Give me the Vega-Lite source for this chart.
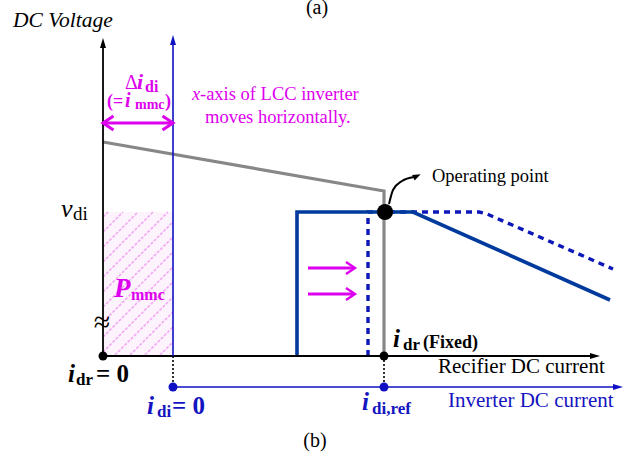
{
  "$schema": "https://vega.github.io/schema/vega-lite/v6.json",
  "width": 627,
  "height": 452,
  "padding": 0,
  "autosize": {"type": "none"},
  "background": "white",
  "config": {"view": {"stroke": null}, "font": "Liberation Serif", "text": {"font": "Liberation Serif", "align": "left", "baseline": "alphabetic"}},
  "encoding": {
    "x": {"field": "x", "type": "quantitative", "scale": {"domain": [-103, 524], "nice": false, "zero": false}, "axis": null},
    "y": {"field": "y", "type": "quantitative", "scale": {"domain": [-96, 356], "nice": false, "zero": false}, "axis": null}
  },
  "layer": [
    {
      "data": {"values": [{"x": 0, "x2": 70, "y": 1, "y2": 144}]},
      "mark": {"type": "rect", "fill": "#fdf3fd"},
      "encoding": {"x2": {"field": "x2"}, "y2": {"field": "y2"}}
    },
    {
      "data": {"values": [
        {"x": 0, "y": 139, "x2": 5, "y2": 144},
        {"x": 0, "y": 124, "x2": 20, "y2": 144},
        {"x": 0, "y": 109, "x2": 35, "y2": 144},
        {"x": 0, "y": 94, "x2": 50, "y2": 144},
        {"x": 0, "y": 79, "x2": 65, "y2": 144},
        {"x": 0, "y": 64, "x2": 70, "y2": 134},
        {"x": 0, "y": 49, "x2": 70, "y2": 119},
        {"x": 0, "y": 34, "x2": 70, "y2": 104},
        {"x": 0, "y": 19, "x2": 70, "y2": 89},
        {"x": 0, "y": 4, "x2": 70, "y2": 74},
        {"x": 12, "y": 1, "x2": 70, "y2": 59},
        {"x": 27, "y": 1, "x2": 70, "y2": 44},
        {"x": 42, "y": 1, "x2": 70, "y2": 29},
        {"x": 57, "y": 1, "x2": 70, "y2": 14}
      ]},
      "mark": {"type": "rule", "stroke": "#f2a8f2", "strokeWidth": 1.6, "strokeDash": [3, 1.5]},
      "encoding": {"x2": {"field": "x2"}, "y2": {"field": "y2"}}
    },
    {
      "data": {"values": [
        {"seg": "rect", "o": 1, "x": 0, "y": 214},
        {"seg": "rect", "o": 2, "x": 281, "y": 165},
        {"seg": "rect", "o": 3, "x": 281, "y": 0}
      ]},
      "mark": {"type": "line", "stroke": "#878787", "strokeWidth": 3.2, "strokeJoin": "miter"},
      "encoding": {"order": {"field": "o"}}
    },
    {
      "data": {"values": [
        {"seg": "inv", "o": 1, "x": 265, "y": 0},
        {"seg": "inv", "o": 2, "x": 265, "y": 144},
        {"seg": "inv", "o": 3, "x": 376, "y": 144},
        {"seg": "inv", "o": 4, "x": 384, "y": 142},
        {"seg": "inv", "o": 5, "x": 510, "y": 87}
      ]},
      "mark": {"type": "line", "stroke": "#0c18b8", "strokeWidth": 3.4, "strokeDash": [6, 5]},
      "encoding": {"order": {"field": "o"}}
    },
    {
      "data": {"values": [
        {"seg": "inv", "o": 1, "x": 194, "y": 0},
        {"seg": "inv", "o": 2, "x": 194, "y": 144},
        {"seg": "inv", "o": 3, "x": 310, "y": 144},
        {"seg": "inv", "o": 4, "x": 507, "y": 56}
      ]},
      "mark": {"type": "line", "stroke": "#003a9c", "strokeWidth": 3.6, "strokeJoin": "miter"},
      "encoding": {"order": {"field": "o"}}
    },
    {
      "data": {"values": [
        {"seg": "v", "o": 1, "x": 0, "y": 0},
        {"seg": "v", "o": 2, "x": 0, "y": 310},
        {"seg": "h", "o": 1, "x": 0, "y": 0},
        {"seg": "h", "o": 2, "x": 490, "y": 0}
      ]},
      "mark": {"type": "line", "stroke": "#000000", "strokeWidth": 1.8},
      "encoding": {"order": {"field": "o"}, "detail": {"field": "seg"}}
    },
    {
      "data": {"values": [
        {"seg": "v", "o": 1, "x": 70, "y": 0},
        {"seg": "v", "o": 2, "x": 70, "y": 313},
        {"seg": "h", "o": 1, "x": 70, "y": -31},
        {"seg": "h", "o": 2, "x": 513, "y": -31}
      ]},
      "mark": {"type": "line", "stroke": "#1010c4", "strokeWidth": 1.6},
      "encoding": {"order": {"field": "o"}, "detail": {"field": "seg"}}
    },
    {
      "data": {"values": [
        {"seg": "a", "o": 1, "x": 70, "y": 0},
        {"seg": "a", "o": 2, "x": 70, "y": -31},
        {"seg": "b", "o": 1, "x": 281, "y": 0},
        {"seg": "b", "o": 2, "x": 281, "y": -31}
      ]},
      "mark": {"type": "line", "stroke": "#000000", "strokeWidth": 1.6, "strokeDash": [2, 2]},
      "encoding": {"order": {"field": "o"}, "detail": {"field": "seg"}}
    },
    {
      "data": {"values": [{"x": 0, "y": 313}]},
      "mark": {"type": "point", "shape": "M0,-1L-0.6,1L0.6,1Z", "size": 100, "filled": true, "fill": "#000000", "opacity": 1, "strokeWidth": 0}
    },
    {
      "data": {"values": [{"x": 492, "y": 0}]},
      "mark": {"type": "point", "shape": "M1,0L-1,-0.6L-1,0.6Z", "size": 100, "filled": true, "fill": "#000000", "opacity": 1, "strokeWidth": 0}
    },
    {
      "data": {"values": [{"x": 70, "y": 316}]},
      "mark": {"type": "point", "shape": "M0,-1L-0.6,1L0.6,1Z", "size": 100, "filled": true, "fill": "#1010c4", "opacity": 1, "strokeWidth": 0}
    },
    {
      "data": {"values": [{"x": 515, "y": -31}]},
      "mark": {"type": "point", "shape": "M1,0L-1,-0.6L-1,0.6Z", "size": 100, "filled": true, "fill": "#1010c4", "opacity": 1, "strokeWidth": 0}
    },
    {
      "data": {"values": [
        {"seg": "c", "o": 1, "x": 286, "y": 152},
        {"seg": "c", "o": 2, "x": 290, "y": 166},
        {"seg": "c", "o": 3, "x": 299, "y": 175},
        {"seg": "c", "o": 4, "x": 311, "y": 179}
      ]},
      "mark": {"type": "line", "stroke": "#000000", "strokeWidth": 2, "interpolate": "monotone"},
      "encoding": {"order": {"field": "o"}}
    },
    {
      "data": {"values": [{"x": 314, "y": 180}]},
      "mark": {"type": "point", "shape": "M1,0L-1,-0.75L-1,0.75Z", "size": 64, "angle": -25, "filled": true, "fill": "#000000", "opacity": 1, "strokeWidth": 0}
    },
    {
      "data": {"values": [
        {"seg": "d", "o": 1, "x": 1, "y": 233},
        {"seg": "d", "o": 2, "x": 69, "y": 233},
        {"seg": "r1", "o": 1, "x": 205, "y": 88},
        {"seg": "r1", "o": 2, "x": 251, "y": 88},
        {"seg": "r2", "o": 1, "x": 205, "y": 62},
        {"seg": "r2", "o": 2, "x": 251, "y": 62}
      ]},
      "mark": {"type": "line", "stroke": "#dd00ee", "strokeWidth": 2.8},
      "encoding": {"order": {"field": "o"}, "detail": {"field": "seg"}}
    },
    {
      "data": {"values": [{"x": 70, "y": 233}]},
      "mark": {"type": "point", "shape": "M-1.5,-1L0,0L-1.5,1", "size": 196, "filled": false, "stroke": "#dd00ee", "strokeWidth": 3, "opacity": 1}
    },
    {
      "data": {"values": [{"x": 0, "y": 233}]},
      "mark": {"type": "point", "shape": "M-1.5,-1L0,0L-1.5,1", "size": 196, "angle": 180, "filled": false, "stroke": "#dd00ee", "strokeWidth": 3, "opacity": 1}
    },
    {
      "data": {"values": [{"x": 252, "y": 88}, {"x": 252, "y": 62}]},
      "mark": {"type": "point", "shape": "M-1.5,-1L0,0L-1.5,1", "size": 144, "filled": false, "stroke": "#dd00ee", "strokeWidth": 2.4, "opacity": 1}
    },
    {
      "data": {"values": [{"x": 282, "y": 144}]},
      "mark": {"type": "point", "shape": "circle", "size": 260, "filled": true, "fill": "#000000", "opacity": 1}
    },
    {
      "data": {"values": [{"x": 0, "y": 0}, {"x": 281, "y": 0}]},
      "mark": {"type": "point", "shape": "circle", "size": 80, "filled": true, "fill": "#000000", "opacity": 1}
    },
    {
      "data": {"values": [{"x": 70, "y": -31}, {"x": 281, "y": -31}]},
      "mark": {"type": "point", "shape": "circle", "size": 80, "filled": true, "fill": "#1010c4", "opacity": 1}
    },
    {
      "data": {"values": [{"x": 214, "y": 342, "t": "(a)"}, {"x": 212, "y": -91, "t": "(b)"}]},
      "mark": {"type": "text", "font": "Liberation Serif", "fontSize": 20, "align": "center", "fill": "#000000"},
      "encoding": {"text": {"field": "t"}}
    },
    {
      "data": {"values": [{"x": 329, "y": 174, "t": "Operating point"}]},
      "mark": {"type": "text", "font": "Liberation Serif", "fontSize": 18.5, "fill": "#000000"},
      "encoding": {"text": {"field": "t"}}
    },
    {
      "data": {"values": [{"x": 335, "y": -17, "t": "Recifier DC current"}]},
      "mark": {"type": "text", "font": "Liberation Serif", "fontSize": 21, "fill": "#000000"},
      "encoding": {"text": {"field": "t"}}
    },
    {
      "data": {"values": [{"x": 345, "y": -51, "t": "Inverter DC current"}]},
      "mark": {"type": "text", "font": "Liberation Serif", "fontSize": 21, "fill": "#1414c0"},
      "encoding": {"text": {"field": "t"}}
    },
    {
      "data": {"values": [{"x": -90, "y": 329, "t": "DC Voltage"}]},
      "mark": {"type": "text", "font": "Liberation Serif", "fontSize": 21.5, "fontStyle": "italic", "fill": "#000000"},
      "encoding": {"text": {"field": "t"}}
    },
    {
      "data": {"values": [{"x": -42, "y": 139, "t": "v"}]},
      "mark": {"type": "text", "font": "Liberation Serif", "fontSize": 26, "fontStyle": "italic", "fill": "#000000"},
      "encoding": {"text": {"field": "t"}}
    },
    {
      "data": {"values": [{"x": -30, "y": 136, "t": "di"}]},
      "mark": {"type": "text", "font": "Liberation Serif", "fontSize": 19, "fill": "#000000"},
      "encoding": {"text": {"field": "t"}}
    },
    {
      "data": {"values": [{"x": -1, "y": 24, "t": "≈"}]},
      "mark": {"type": "text", "font": "Liberation Serif", "fontSize": 30, "align": "center", "fill": "#000000"},
      "encoding": {"text": {"field": "t"}}
    },
    {
      "data": {"values": [{"x": 22, "y": 267, "t": "Δ"}]},
      "mark": {"type": "text", "font": "Liberation Serif", "fontSize": 20, "fill": "#dd00ee"},
      "encoding": {"text": {"field": "t"}}
    },
    {
      "data": {"values": [{"x": 34, "y": 267, "t": "i"}]},
      "mark": {"type": "text", "font": "Liberation Serif", "fontSize": 22, "fontWeight": "bold", "fontStyle": "italic", "fill": "#dd00ee"},
      "encoding": {"text": {"field": "t"}}
    },
    {
      "data": {"values": [{"x": 42, "y": 264, "t": "di"}]},
      "mark": {"type": "text", "font": "Liberation Serif", "fontSize": 16, "fontWeight": "bold", "fill": "#dd00ee"},
      "encoding": {"text": {"field": "t"}}
    },
    {
      "data": {"values": [{"x": 4, "y": 249, "t": "(="}, {"x": 62, "y": 249, "t": ")"}]},
      "mark": {"type": "text", "font": "Liberation Serif", "fontSize": 18, "fontWeight": "bold", "fill": "#dd00ee"},
      "encoding": {"text": {"field": "t"}}
    },
    {
      "data": {"values": [{"x": 22, "y": 249, "t": "i"}]},
      "mark": {"type": "text", "font": "Liberation Serif", "fontSize": 20, "fontWeight": "bold", "fontStyle": "italic", "fill": "#dd00ee"},
      "encoding": {"text": {"field": "t"}}
    },
    {
      "data": {"values": [{"x": 32, "y": 247, "t": "mmc"}]},
      "mark": {"type": "text", "font": "Liberation Serif", "fontSize": 14, "fontWeight": "bold", "fill": "#dd00ee"},
      "encoding": {"text": {"field": "t"}}
    },
    {
      "data": {"values": [{"x": 89, "y": 256, "t": "x"}]},
      "mark": {"type": "text", "font": "Liberation Serif", "fontSize": 18.5, "fontStyle": "italic", "fill": "#dd00ee"},
      "encoding": {"text": {"field": "t"}}
    },
    {
      "data": {"values": [{"x": 97, "y": 256, "t": "-axis of LCC inverter"}, {"x": 102, "y": 233, "t": "moves horizontally."}]},
      "mark": {"type": "text", "font": "Liberation Serif", "fontSize": 18.5, "fill": "#dd00ee"},
      "encoding": {"text": {"field": "t"}}
    },
    {
      "data": {"values": [{"x": 11, "y": 59, "t": "P"}]},
      "mark": {"type": "text", "font": "Liberation Serif", "fontSize": 27, "fontWeight": "bold", "fontStyle": "italic", "fill": "#dd00ee"},
      "encoding": {"text": {"field": "t"}}
    },
    {
      "data": {"values": [{"x": 28, "y": 56, "t": "mmc"}]},
      "mark": {"type": "text", "font": "Liberation Serif", "fontSize": 16, "fontWeight": "bold", "fill": "#dd00ee"},
      "encoding": {"text": {"field": "t"}}
    },
    {
      "data": {"values": [{"x": -35, "y": -26, "t": "i"}, {"x": 290, "y": 9, "t": "i"}]},
      "mark": {"type": "text", "font": "Liberation Serif", "fontSize": 25, "fontWeight": "bold", "fontStyle": "italic", "fill": "#000000"},
      "encoding": {"text": {"field": "t"}}
    },
    {
      "data": {"values": [{"x": -27, "y": -29, "t": "dr"}, {"x": 300, "y": 6, "t": "dr"}]},
      "mark": {"type": "text", "font": "Liberation Serif", "fontSize": 17, "fontWeight": "bold", "fill": "#000000"},
      "encoding": {"text": {"field": "t"}}
    },
    {
      "data": {"values": [{"x": -7, "y": -26, "t": "= 0"}]},
      "mark": {"type": "text", "font": "Liberation Serif", "fontSize": 25, "fontWeight": "bold", "fill": "#000000"},
      "encoding": {"text": {"field": "t"}}
    },
    {
      "data": {"values": [{"x": 320, "y": 8, "t": "(Fixed)"}]},
      "mark": {"type": "text", "font": "Liberation Serif", "fontSize": 18, "fontWeight": "bold", "fill": "#000000"},
      "encoding": {"text": {"field": "t"}}
    },
    {
      "data": {"values": [{"x": 44, "y": -58, "t": "i"}, {"x": 259, "y": -54, "t": "i"}]},
      "mark": {"type": "text", "font": "Liberation Serif", "fontSize": 25, "fontWeight": "bold", "fontStyle": "italic", "fill": "#1414c0"},
      "encoding": {"text": {"field": "t"}}
    },
    {
      "data": {"values": [{"x": 54, "y": -61, "t": "di"}, {"x": 269, "y": -58, "t": "di,ref"}]},
      "mark": {"type": "text", "font": "Liberation Serif", "fontSize": 17, "fontWeight": "bold", "fill": "#1414c0"},
      "encoding": {"text": {"field": "t"}}
    },
    {
      "data": {"values": [{"x": 69, "y": -58, "t": "= 0"}]},
      "mark": {"type": "text", "font": "Liberation Serif", "fontSize": 25, "fontWeight": "bold", "fill": "#1414c0"},
      "encoding": {"text": {"field": "t"}}
    }
  ]
}
